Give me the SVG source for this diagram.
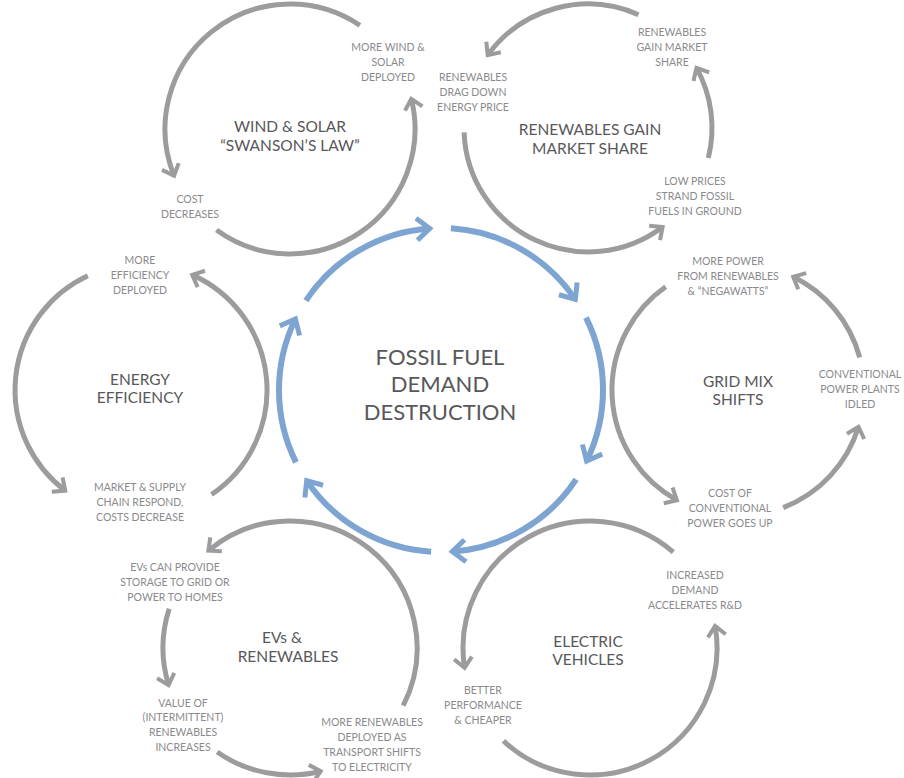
<svg xmlns="http://www.w3.org/2000/svg" width="904" height="778" viewBox="0 0 904 778">
<style>
.g{fill:none;stroke:#9c9c9e;stroke-width:5;marker-end:url(#ag)}
.b{fill:none;stroke:#7ea5d1;stroke-width:6;marker-end:url(#ab)}
.l{font-family:Lato,"Liberation Sans",sans-serif;font-size:10.5px;fill:#8a8a8c;text-anchor:middle}
.t{font-family:Lato,"Liberation Sans",sans-serif;font-size:15.5px;fill:#58585a;text-anchor:middle}
.c{font-family:Lato,"Liberation Sans",sans-serif;font-size:22px;fill:#58585a;text-anchor:middle}
</style>
<defs>
<marker id="ag" markerUnits="userSpaceOnUse" markerWidth="40" markerHeight="40" refX="0" refY="0" orient="auto" viewBox="-20 -20 40 40" overflow="visible">
<path d="M-10,-9 L0,0 L-10,9" fill="none" stroke="#9c9c9e" stroke-width="4"/>
</marker>
<marker id="ab" markerUnits="userSpaceOnUse" markerWidth="40" markerHeight="40" refX="0" refY="0" orient="auto" viewBox="-20 -20 40 40" overflow="visible">
<path d="M-13,-11 L0,0 L-13,11" fill="none" stroke="#7ea5d1" stroke-width="5"/>
</marker>
</defs>
<rect width="904" height="778" fill="#fff"/>
<g id="connectors">
<path class="b" d="M305.9,300.6 A162,162 0 0 1 429.7,228.4"/>
<path class="b" d="M450.9,228.3 A162,162 0 0 1 575.3,299.4"/>
<path class="b" d="M586.0,317.7 A162,162 0 0 1 586.6,461.0"/>
<path class="b" d="M576.1,479.4 A162,162 0 0 1 452.3,551.6"/>
<path class="b" d="M431.1,551.7 A162,162 0 0 1 306.7,480.6"/>
<path class="b" d="M296.0,462.3 A162,162 0 0 1 295.4,319.0"/>
<path class="g" d="M359.9,25.4 A125,125 0 0 0 174.1,175.8"/>
<path class="g" d="M216.5,230.1 A125,125 0 0 0 411.3,98.8"/>
<path class="g" d="M638.4,14.7 A124,124 0 0 0 487.7,55.1"/>
<path class="g" d="M464.1,132.3 A124,124 0 0 0 662.6,227.0"/>
<path class="g" d="M708.3,158.0 A124,124 0 0 0 696.5,67.9"/>
<path class="g" d="M665.7,286.8 A126,126 0 0 0 676.9,500.2"/>
<path class="g" d="M783.2,507.6 A126,126 0 0 0 858.5,426.8"/>
<path class="g" d="M859.7,357.4 A126,126 0 0 0 793.2,276.8"/>
<path class="g" d="M673.3,552.2 A127,127 0 0 0 464.6,667.9"/>
<path class="g" d="M503.4,740.9 A127,127 0 0 0 715.1,626.0"/>
<path class="g" d="M403.2,705.7 A127,127 0 0 0 208.4,550.7"/>
<path class="g" d="M169.2,608.8 A127,127 0 0 0 168.6,685.1"/>
<path class="g" d="M217.2,752.0 A127,127 0 0 0 320.7,771.2"/>
<path class="g" d="M87.8,275.8 A126,126 0 0 0 65.2,490.6"/>
<path class="g" d="M211.5,494.5 A126,126 0 0 0 192.2,274.9"/>
</g>
<g id="center">
<text class="c" x="440" y="365">FOSSIL FUEL</text>
<text class="c" x="440" y="392">DEMAND</text>
<text class="c" x="440" y="420">DESTRUCTION</text>
</g>
<g id="wind-solar">
<text class="t" x="290" y="132">WIND &amp; SOLAR</text>
<text class="t" x="290" y="151">“SWANSON’S LAW”</text>
<text class="l" x="388" y="51">MORE WIND &amp;</text>
<text class="l" x="388" y="66">SOLAR</text>
<text class="l" x="388" y="81">DEPLOYED</text>
<text class="l" x="190" y="203">COST</text>
<text class="l" x="190" y="218">DECREASES</text>
</g>
<g id="market-share">
<text class="t" x="590" y="135">RENEWABLES GAIN</text>
<text class="t" x="590" y="154">MARKET SHARE</text>
<text class="l" x="473" y="81">RENEWABLES</text>
<text class="l" x="473" y="96">DRAG DOWN</text>
<text class="l" x="473" y="111">ENERGY PRICE</text>
<text class="l" x="672" y="36">RENEWABLES</text>
<text class="l" x="672" y="51">GAIN MARKET</text>
<text class="l" x="672" y="66">SHARE</text>
<text class="l" x="695" y="185">LOW PRICES</text>
<text class="l" x="695" y="200">STRAND FOSSIL</text>
<text class="l" x="695" y="215">FUELS IN GROUND</text>
</g>
<g id="grid-mix">
<text class="t" x="738" y="387">GRID MIX</text>
<text class="t" x="738" y="405">SHIFTS</text>
<text class="l" x="728" y="265">MORE POWER</text>
<text class="l" x="728" y="280">FROM RENEWABLES</text>
<text class="l" x="728" y="295">&amp; “NEGAWATTS”</text>
<text class="l" x="860" y="378">CONVENTIONAL</text>
<text class="l" x="860" y="393">POWER PLANTS</text>
<text class="l" x="860" y="408">IDLED</text>
<text class="l" x="730" y="497">COST OF</text>
<text class="l" x="730" y="512">CONVENTIONAL</text>
<text class="l" x="730" y="527">POWER GOES UP</text>
</g>
<g id="electric-vehicles">
<text class="t" x="588" y="647">ELECTRIC</text>
<text class="t" x="588" y="665">VEHICLES</text>
<text class="l" x="695" y="579">INCREASED</text>
<text class="l" x="695" y="594">DEMAND</text>
<text class="l" x="695" y="609">ACCELERATES R&amp;D</text>
<text class="l" x="483" y="694">BETTER</text>
<text class="l" x="483" y="709">PERFORMANCE</text>
<text class="l" x="483" y="724">&amp; CHEAPER</text>
</g>
<g id="evs-renewables">
<text class="t" x="282" y="643">EVs &amp;</text>
<text class="t" x="288" y="662">RENEWABLES</text>
<text class="l" x="175" y="571">EVs CAN PROVIDE</text>
<text class="l" x="175" y="586">STORAGE TO GRID OR</text>
<text class="l" x="175" y="601">POWER TO HOMES</text>
<text class="l" x="183" y="707">VALUE OF</text>
<text class="l" x="183" y="721">(INTERMITTENT)</text>
<text class="l" x="183" y="736">RENEWABLES</text>
<text class="l" x="183" y="751">INCREASES</text>
<text class="l" x="372" y="726">MORE RENEWABLES</text>
<text class="l" x="372" y="741">DEPLOYED AS</text>
<text class="l" x="372" y="756">TRANSPORT SHIFTS</text>
<text class="l" x="372" y="771">TO ELECTRICITY</text>
</g>
<g id="energy-efficiency">
<text class="t" x="140" y="385">ENERGY</text>
<text class="t" x="140" y="403">EFFICIENCY</text>
<text class="l" x="140" y="264">MORE</text>
<text class="l" x="140" y="279">EFFICIENCY</text>
<text class="l" x="140" y="294">DEPLOYED</text>
<text class="l" x="140" y="491">MARKET &amp; SUPPLY</text>
<text class="l" x="140" y="506">CHAIN RESPOND,</text>
<text class="l" x="140" y="521">COSTS DECREASE</text>
</g>
</svg>
